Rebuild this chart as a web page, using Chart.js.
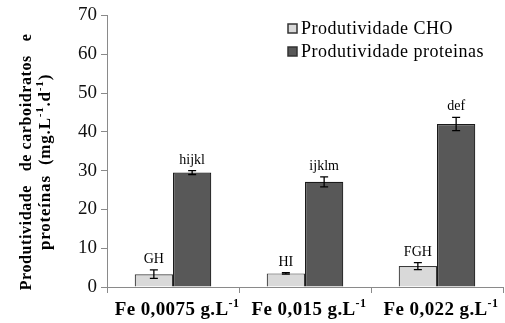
<!DOCTYPE html>
<html>
<head>
<meta charset="utf-8">
<script src="https://cdn.jsdelivr.net/npm/chart.js@4.4.1/dist/chart.umd.min.js"></script>
<style>
  html, body { margin: 0; padding: 0; background: #fff; }
  #wrap { width: 505px; height: 323px; position: relative; }
</style>
</head>
<body>
<div id="wrap"><canvas id="chart"></canvas></div>
<script>
// data
const categories = ['Fe 0,0075 g.L', 'Fe 0,015 g.L', 'Fe 0,022 g.L']
const choValues = [3.3, 3.5, 5.4]
const choErrors = [1.1, 0.2, 0.9]
const choLetters = ['GH', 'HI', 'FGH']
const protValues = [29.5, 27.1, 42.0]
const protErrors = [0.5, 1.3, 1.7]
const protLetters = ['hijkl', 'ijklm', 'def']
const seriesNames = ['Produtividade CHO', 'Produtividade proteinas']
const yMin = 0
const yMax = 70
const yStep = 10

const serif = "'Liberation Serif', 'Times New Roman', serif"

// draw a line of text made of runs, some of them superscript
function drawRuns(ctx, runs, x, y, size, weight, spacing) {
    ctx.save()
    ctx.letterSpacing = spacing + 'px'
    ctx.textBaseline = 'alphabetic'
    ctx.textAlign = 'left'
    let total = 0
    const widths = runs.map(r => {
        ctx.font = weight + ' ' + (r.sup ? Math.round(size * 0.62) : size) + 'px ' + serif
        const w = ctx.measureText(r.t).width
        total += w
        return w
    })
    let cx = x - total / 2
    runs.forEach((r, i) => {
        ctx.font = weight + ' ' + (r.sup ? Math.round(size * 0.62) : size) + 'px ' + serif
        ctx.fillText(r.t, cx, r.sup ? y - size * 0.42 : y)
        cx += widths[i]
    })
    ctx.restore()
}

const extras = {
    id: 'extras',
    afterDatasetsDraw(chart) {
        const ctx = chart.ctx
        const y = chart.scales.y
        const x = chart.scales.x
        const errs = [choErrors, protErrors]
        const letters = [choLetters, protLetters]

        // error bars and letters
        chart.data.datasets.forEach((ds, di) => {
            const meta = chart.getDatasetMeta(di)
            meta.data.forEach((bar, i) => {
                const v = ds.data[i]
                const e = errs[di][i]
                const top = y.getPixelForValue(v + e)
                const bot = y.getPixelForValue(v - e)
                ctx.save()
                ctx.strokeStyle = '#000'
                ctx.lineWidth = 1.3
                ctx.beginPath()
                ctx.moveTo(bar.x, top); ctx.lineTo(bar.x, bot)
                ctx.moveTo(bar.x - 4, top); ctx.lineTo(bar.x + 4, top)
                ctx.moveTo(bar.x - 4, bot); ctx.lineTo(bar.x + 4, bot)
                ctx.stroke()
                ctx.fillStyle = '#000'
                ctx.font = '14px ' + serif
                ctx.textAlign = 'center'
                ctx.textBaseline = 'alphabetic'
                ctx.fillText(letters[di][i], bar.x, top - 7)
                ctx.restore()
            })
        })

        // x category labels with superscript
        ctx.save()
        ctx.fillStyle = '#000'
        categories.forEach((c, i) => {
            drawRuns(ctx, [{t: c}, {t: '-1', sup: true}], x.getPixelForValue(i) + 4, 315, 19, 'bold', 0.4)
        })
        ctx.restore()

        // y axis title, two lines rotated
        ctx.save()
        ctx.fillStyle = '#000'
        ctx.translate(0, 162)
        ctx.rotate(-Math.PI / 2)
        drawRuns(ctx, [{t: 'Produtividade   de carboidratos   e'}], 0, 31, 16, 'bold', 0.6)
        drawRuns(ctx, [{t: 'proteínas  (mg.L'}, {t: '-1', sup: true}, {t: '.d'}, {t: '-1', sup: true}, {t: ')'}], 0, 50, 17, 'bold', 0.8)
        ctx.restore()

        // legend
        const colors = chart.data.datasets.map(d => d.backgroundColor)
        ctx.save()
        seriesNames.forEach((name, i) => {
            const by = 24 + i * 23
            ctx.fillStyle = colors[i]
            ctx.fillRect(288, by, 9, 9)
            ctx.strokeStyle = '#333'
            ctx.lineWidth = 1.5
            ctx.strokeRect(288, by, 9, 9)
            ctx.fillStyle = '#000'
            ctx.font = '18px ' + serif
            ctx.letterSpacing = '0.5px'
            ctx.textBaseline = 'middle'
            ctx.fillText(name, 301, by + 5)
        })
        ctx.restore()
    }
}

const ctx = document.getElementById('chart').getContext('2d')

const chart = new Chart(ctx, {
    type: 'bar',
    data: {
        labels: categories,
        datasets: [{
            label: seriesNames[0],
            data: choValues,
            backgroundColor: '#d9d9d9',
            borderColor: '#3a3a3a',
            borderWidth: 1.2,
            categoryPercentage: 0.58,
            barPercentage: 1
        }, {
            label: seriesNames[1],
            data: protValues,
            backgroundColor: '#585858',
            borderColor: '#1a1a1a',
            borderWidth: 1.2,
            categoryPercentage: 0.58,
            barPercentage: 1
        }]
    },
    options: {
        responsive: true,
        maintainAspectRatio: false,
        animation: false,
        layout: { padding: { top: 13, right: 2, left: 0, bottom: 0 } },
        plugins: {
            legend: { display: false },
            tooltip: { enabled: false }
        },
        scales: {
            x: {
                grid: { offset: true, drawOnChartArea: false, tickLength: 6, color: '#8a8a8a' },
                border: { color: '#8a8a8a', width: 1 },
                ticks: { display: false },
                afterFit(s) { s.height = 36 }
            },
            y: {
                min: yMin,
                max: yMax,
                ticks: {
                    stepSize: yStep,
                    padding: 4,
                    color: '#111',
                    font: { family: serif, size: 19 }
                },
                grid: { drawOnChartArea: false, tickLength: 6, color: '#8a8a8a' },
                border: { color: '#8a8a8a', width: 1 },
                afterFit(s) { s.width = 107 }
            }
        }
    },
    plugins: [extras]
})
</script>
</body>
</html>
